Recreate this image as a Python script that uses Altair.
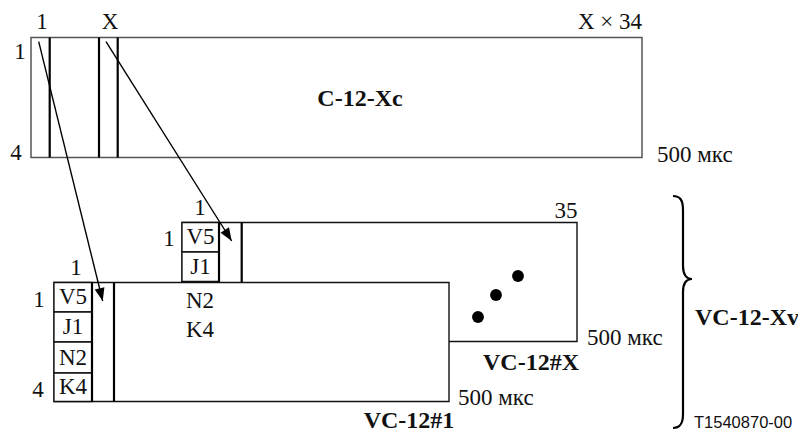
import altair as alt
import pandas as pd

# ---- coordinate frame (diagram units == reference pixels) ----
W, H = 790, 426
XDOM = [8, 8 + W]
YDOM = [8, 8 + H]

# ---- frames (C-12-Xc, VC-12#X, VC-12#1) ----
frame_names = ["C-12-Xc", "VC-12#X", "VC-12#1"]
frame_x1 = [31, 182, 54]
frame_x2 = [642, 577, 449]
frame_y1 = [37.5, 222.5, 282.5]
frame_y2 = [157.5, 341.5, 401.5]

# ---- byte cells (first column of each VC-12) ----
cell_frame = ["VC-12#X", "VC-12#X", "VC-12#1", "VC-12#1", "VC-12#1", "VC-12#1"]
cell_labels = ["V5", "J1", "V5", "J1", "N2", "K4"]
cell_x1 = [182, 182, 54, 54, 54, 54]
cell_x2 = [219, 219, 92, 92, 92, 92]
cell_y1 = [222.5, 252, 282.5, 312, 342, 373]
cell_y2 = [252, 281.5, 312, 342, 373, 401.5]

# ---- column separators ----
sep_frame = ["C-12-Xc"] * 3 + ["VC-12#X"] * 2 + ["VC-12#1"] * 2
sep_x = [49.7, 99, 117.7, 219, 241.7, 92, 114]
sep_y1 = [37.5, 37.5, 37.5, 222.5, 222.5, 282.5, 282.5]
sep_y2 = [157.5, 157.5, 157.5, 282.5, 282.5, 401.5, 401.5]

# ---- plain labels ----
lab_text = ["1", "X", "X \u00d7 34", "1", "4",
            "1", "35", "1",
            "1", "1", "4", "N2", "K4"]
lab_x = [42, 110, 610, 20, 16,
         200, 566, 169,
         76, 39, 38, 200, 200]
lab_y = [22, 22, 22, 52, 153,
         208, 211, 239,
         268, 300, 390, 301, 330]

# ---- left-aligned duration labels ----
dur_text = ["500 \u043c\u043a\u0441", "500 \u043c\u043a\u0441", "500 \u043c\u043a\u0441"]
dur_x = [657, 587, 458]
dur_y = [155, 338, 398]

# ---- bold titles ----
title_text = ["C-12-Xc", "VC-12#X", "VC-12#1"]
title_x = [360, 531, 409]
title_y = [99, 363, 421]

group_text = ["VC-12-Xv"]
group_x = [695]
group_y = [318]

ref_text = ["T1540870-00"]
ref_x = [694]
ref_y = [423]

# ---- ellipsis dots ----
dot_x = [478, 496, 518]
dot_y = [317, 295, 276]

# ---- arrows (from column in C-12-Xc to VC-12 frames) ----
arr_x1 = [38.7, 106]
arr_y1 = [41.7, 41.7]
arr_x2 = [102.7, 231.7]
arr_y2 = [301, 241]
arr_angle = [346.1, 327.8]

# ---- brace ----
brace_x = [692]
brace_y = [279]

BRACE_PATH = ("M-19,-83 C-12,-83 -9,-79 -9,-69 L-9,-13 C-9,-5 -6,0 0,0 "
              "C-6,0 -9,5 -9,13 L-9,135 C-9,145 -12,149 -19,149")
HEAD_PATH = "M0,0 L-5,-13 L5,-13 Z"

SERIF = "'Liberation Serif', 'Times New Roman', Times, 'DejaVu Serif', serif"
SANS = "'Liberation Sans', Arial, Helvetica, sans-serif"
FS = 23


def xs(field):
    return alt.X(field, type="quantitative",
                 scale=alt.Scale(domain=XDOM, nice=False, zero=False), axis=None)


def ys(field):
    return alt.Y(field, type="quantitative",
                 scale=alt.Scale(domain=YDOM, reverse=True, nice=False, zero=False), axis=None)


frames = pd.DataFrame({"name": frame_names, "x1": frame_x1, "x2": frame_x2,
                       "y1": frame_y1, "y2": frame_y2})
cells = pd.DataFrame({"frame": cell_frame, "label": cell_labels, "x1": cell_x1,
                      "x2": cell_x2, "y1": cell_y1, "y2": cell_y2})
cells["xc"] = (cells.x1 + cells.x2) / 2
cells["yc"] = (cells.y1 + cells.y2) / 2
seps = pd.DataFrame({"frame": sep_frame, "x": sep_x, "y1": sep_y1, "y2": sep_y2})


def frame_layers(name, stroke, sw):
    f = frames[frames.name == name]
    c = cells[cells.frame == name]
    s = seps[seps.frame == name]
    layers = [
        alt.Chart(f).mark_rect(fill="white", stroke=stroke, strokeWidth=sw).encode(
            x=xs("x1"), x2="x2", y=ys("y1"), y2="y2")
    ]
    if len(c):
        layers.append(
            alt.Chart(c).mark_rect(fill="white", stroke="#111", strokeWidth=1.3).encode(
                x=xs("x1"), x2="x2", y=ys("y1"), y2="y2"))
        layers.append(
            alt.Chart(c).mark_text(font=SERIF, fontSize=FS, color="#111",
                                   align="center", baseline="middle").encode(
                x=xs("xc"), y=ys("yc"), text="label:N"))
    layers.append(
        alt.Chart(s).mark_rule(color="#000", strokeWidth=2.2).encode(
            x=xs("x"), y=ys("y1"), y2="y2"))
    return layers


layers = []
layers += frame_layers("C-12-Xc", "#555", 1.5)
layers += frame_layers("VC-12#X", "#111", 1.4)
layers += frame_layers("VC-12#1", "#111", 1.4)

labels = pd.DataFrame({"t": lab_text, "x": lab_x, "y": lab_y})
layers.append(alt.Chart(labels).mark_text(font=SERIF, fontSize=FS, color="#111",
                                          align="center", baseline="middle").encode(
    x=xs("x"), y=ys("y"), text="t:N"))

durs = pd.DataFrame({"t": dur_text, "x": dur_x, "y": dur_y})
layers.append(alt.Chart(durs).mark_text(font=SERIF, fontSize=FS, color="#111",
                                        align="left", baseline="middle").encode(
    x=xs("x"), y=ys("y"), text="t:N"))

titles = pd.DataFrame({"t": title_text, "x": title_x, "y": title_y})
layers.append(alt.Chart(titles).mark_text(font=SERIF, fontSize=24, fontWeight="bold",
                                          color="#111", align="center",
                                          baseline="middle").encode(
    x=xs("x"), y=ys("y"), text="t:N"))

groups = pd.DataFrame({"t": group_text, "x": group_x, "y": group_y})
layers.append(alt.Chart(groups).mark_text(font=SERIF, fontSize=24, fontWeight="bold",
                                          color="#111", align="left",
                                          baseline="middle").encode(
    x=xs("x"), y=ys("y"), text="t:N"))

refs = pd.DataFrame({"t": ref_text, "x": ref_x, "y": ref_y})
layers.append(alt.Chart(refs).mark_text(font=SANS, fontSize=16.5, color="#111",
                                        align="left", baseline="middle").encode(
    x=xs("x"), y=ys("y"), text="t:N"))

dots = pd.DataFrame({"x": dot_x, "y": dot_y})
layers.append(alt.Chart(dots).mark_point(shape="circle", filled=True, size=140,
                                         color="#000", opacity=1).encode(
    x=xs("x"), y=ys("y")))

arrows = pd.DataFrame({"x1": arr_x1, "y1": arr_y1, "x2": arr_x2, "y2": arr_y2,
                       "a": arr_angle})
layers.append(alt.Chart(arrows).mark_rule(color="#000", strokeWidth=1.4).encode(
    x=xs("x1"), y=ys("y1"), x2="x2", y2="y2"))
layers.append(alt.Chart(arrows).mark_point(shape=HEAD_PATH, filled=True, size=4,
                                           color="#000", opacity=1).encode(
    x=xs("x2"), y=ys("y2"),
    angle=alt.Angle("a:Q", scale=None)))

brace = pd.DataFrame({"x": brace_x, "y": brace_y})
layers.append(alt.Chart(brace).mark_point(shape=BRACE_PATH, filled=False, size=4,
                                          color="#000", strokeWidth=2.2, opacity=1).encode(
    x=xs("x"), y=ys("y")))

chart = alt.layer(*layers).properties(
    width=W, height=H, padding=0, autosize="none"
).configure_view(stroke=None)

chart.save("out.html", embed_options={"renderer": "svg", "actions": False})
